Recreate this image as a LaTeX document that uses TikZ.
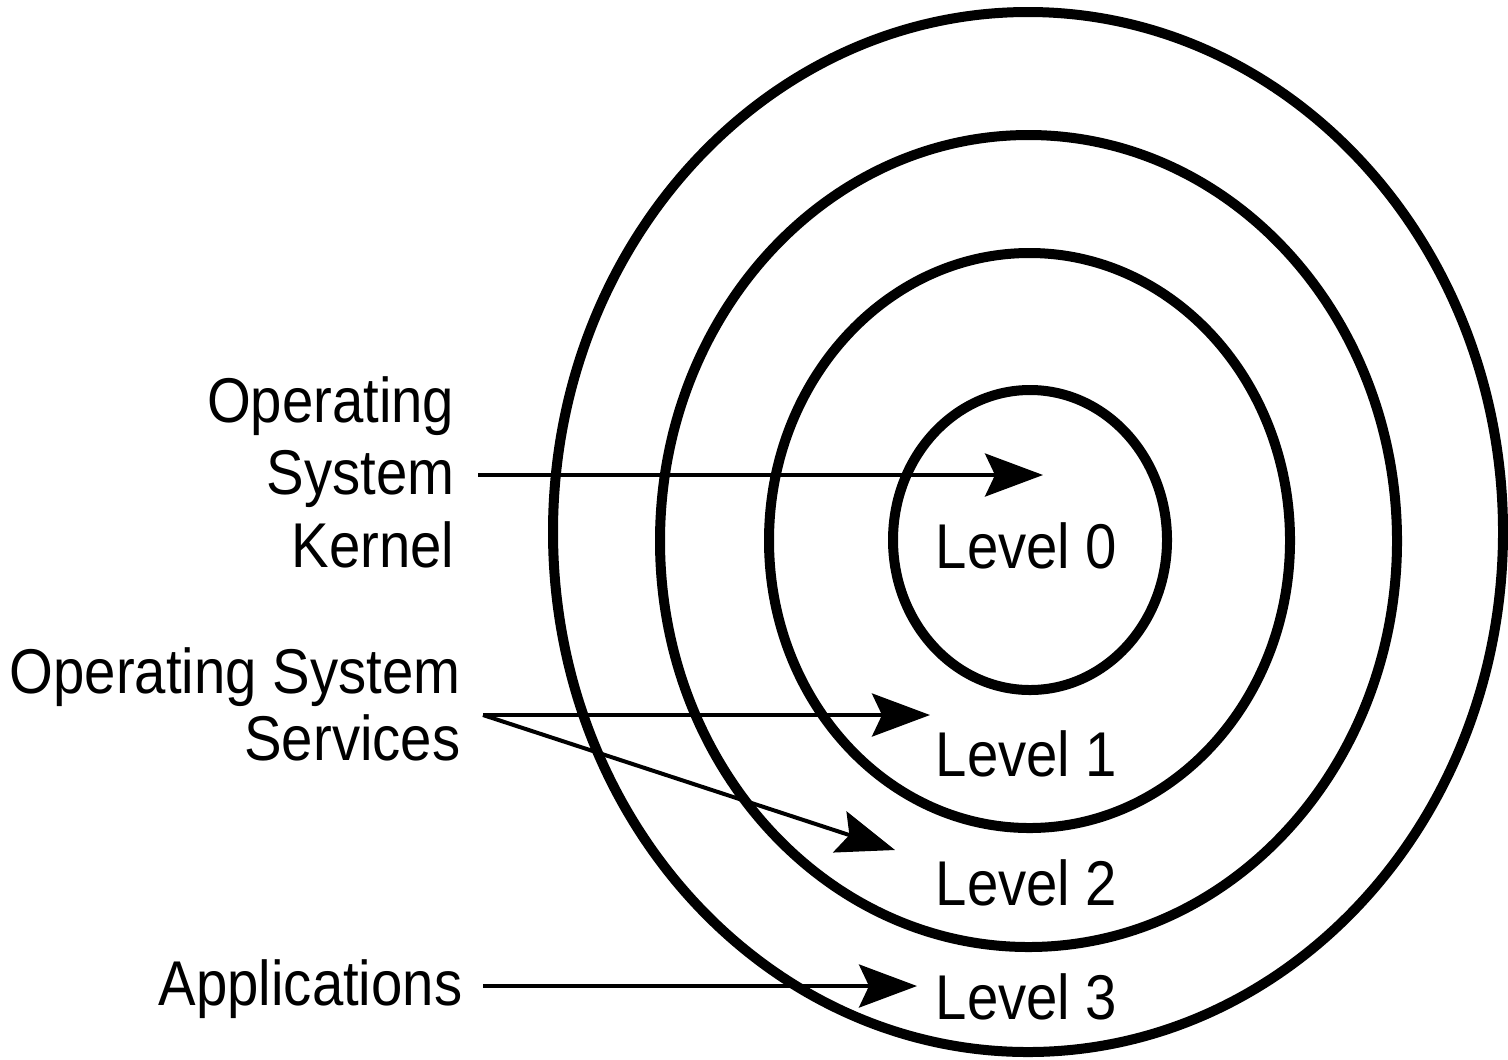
\documentclass[tikz,border=0pt]{standalone}
\usepackage{fontspec}
\setmainfont{Liberation Sans}[FakeStretch=0.89]
\usetikzlibrary{arrows.meta, shapes.geometric}

\begin{document}
\begin{tikzpicture}[
    ring/.style={ellipse, draw, line width=1mm, inner sep=0pt},
    lbl/.style={inner sep=0pt, font=\fontsize{18pt}{20.5pt}\selectfont},
    level/.style={lbl, anchor=base west},
    side/.style={lbl, anchor=base east, align=right},
    connection/.style={-{Stealth[length=5.8mm, width=4.3mm, inset=1mm]}, line width=0.4mm}
]
\useasboundingbox (0,0) rectangle (15.08,-10.59);

% Rings
\node[ring, minimum width=9.50cm, minimum height=10.40cm] (ring3) at (10.28,-5.32) {};
\node[ring, minimum width=7.37cm, minimum height=8.12cm] (ring2) at (10.285,-5.41) {};
\node[ring, minimum width=5.21cm, minimum height=5.75cm] (ring1) at (10.295,-5.405) {};
\node[ring, minimum width=2.74cm, minimum height=3.00cm] (ring0) at (10.30,-5.40) {};

% Level labels
\foreach \i/\y in {0/5.68, 1/7.76, 2/9.05, 3/10.19} {
    \node[level] (lvl\i) at (9.35,-\y) {Level \i};
}

% Side labels
\node[side] (kernel) at (4.55,-5.67) {Operating\\System\\Kernel};
\node[side] (services) at (4.61,-7.60) {Operating System\\[-1.5pt]Services};
\node[side] (apps) at (4.63,-10.05) {Applications};

% Arrow ends
\coordinate (kernelFrom) at (4.78,-4.75);
\coordinate (kernelTo) at (10.43,-4.75);
\coordinate (servFrom) at (4.83,-7.15);
\coordinate (servToA) at (9.30,-7.15);
\coordinate (servToB) at (8.95,-8.50);
\coordinate (appsFrom) at (4.83,-9.86);
\coordinate (appsTo) at (9.17,-9.86);

% Arrows
\draw[connection] (kernelFrom) -- (kernelTo);
\draw[connection] (servFrom) -- (servToA);
\draw[connection] (servFrom) -- (servToB);
\draw[connection] (appsFrom) -- (appsTo);

\end{tikzpicture}
\end{document}
